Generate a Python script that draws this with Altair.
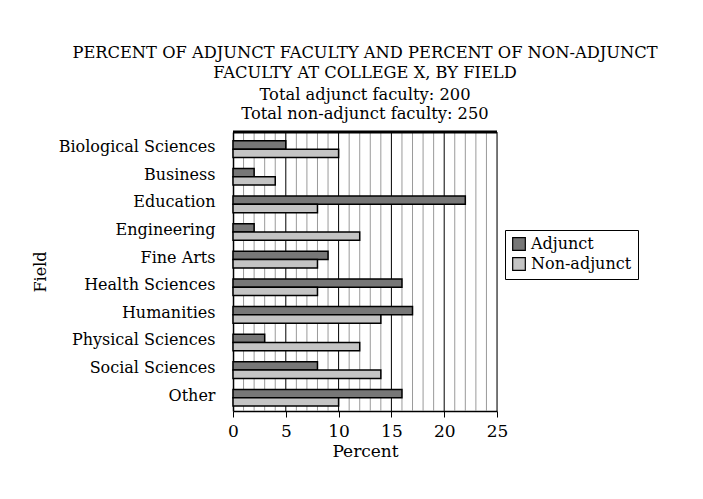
import altair as alt
import pandas as pd

fields = ["Biological Sciences", "Business", "Education", "Engineering", "Fine Arts",
          "Health Sciences", "Humanities", "Physical Sciences", "Social Sciences", "Other"]
adjunct = [5, 2, 22, 2, 9, 16, 17, 3, 8, 16]
non_adjunct = [10, 4, 8, 12, 8, 8, 14, 12, 14, 10]
groups = ["Adjunct", "Non-adjunct"]
grid_values = list(range(1, 26))
tick_values = [0, 5, 10, 15, 20, 25]

rows = []
for f, a, n in zip(fields, adjunct, non_adjunct):
    rows.append({"Field": f, "Group": "Adjunct", "Percent": a})
    rows.append({"Field": f, "Group": "Non-adjunct", "Percent": n})
df = pd.DataFrame(rows)
grid_df = pd.DataFrame({"v": grid_values})

FONT = "DejaVu Serif"
W, H = 264, 279

x_scale = alt.Scale(domain=[0, 25], nice=False)
x_axis = alt.Axis(values=tick_values, grid=False, title="Percent",
                  tickSize=6, tickColor="black", domainColor="black", domainWidth=1.5,
                  labelFontSize=17, titleFontSize=17, labelFont=FONT,
                  titleFont=FONT, titleFontWeight="normal", labelColor="black",
                  titleColor="black", titlePadding=4, labelPadding=6,
                  labelFlush=False)

grid = alt.Chart(grid_df).mark_rule(strokeWidth=1).encode(
    x=alt.X("v:Q", scale=x_scale, axis=x_axis),
    color=alt.condition("datum.v % 5 === 0", alt.value("#000000"), alt.value("#9a9a9a")),
)

top_border = alt.Chart(pd.DataFrame({"v": [0]})).mark_rule(color="#000000", strokeWidth=3).encode(
    x=alt.value(0), x2=alt.value(W), y=alt.value(0),
)

bars = alt.Chart(df).mark_bar(stroke="black", strokeWidth=1.5).encode(
    x=alt.X("Percent:Q", scale=x_scale, axis=x_axis),
    y=alt.Y("Field:N", sort=fields,
            scale=alt.Scale(paddingInner=0.4, paddingOuter=0.25, align=0.64),
            axis=alt.Axis(title="Field", ticks=False, domainColor="black", domainWidth=1.5,
                          labelFontSize=16, titleFontSize=16, labelFont=FONT,
                          titleFont=FONT, titleFontWeight="normal", labelColor="black",
                          titleColor="black", labelPadding=18, titlePadding=10,
                          labelOffset=-2)),
    yOffset=alt.YOffset("Group:N", sort=groups),
    color=alt.Color("Group:N", sort=groups,
                    scale=alt.Scale(domain=groups, range=["#777777", "#c4c4c4"]),
                    legend=alt.Legend(title=None, orient="none", legendX=272, legendY=98,
                                      strokeColor="black", padding=6,
                                      symbolType="square", symbolSize=160,
                                      symbolStrokeColor="black", symbolStrokeWidth=1.2,
                                      labelFont=FONT, labelFontSize=16, labelColor="black",
                                      rowPadding=2)),
)

chart = alt.layer(grid, bars, top_border).resolve_scale(color="independent").properties(
    width=W, height=H,
    padding={"left": 225, "top": 124, "right": 196, "bottom": 78},
    autosize=alt.AutoSizeParams(type="none"),
    title=alt.TitleParams(
        text=["PERCENT OF ADJUNCT FACULTY AND PERCENT OF NON-ADJUNCT",
              "FACULTY AT COLLEGE X, BY FIELD"],
        subtitle=["Total adjunct faculty:  200",
                  "Total non-adjunct faculty:  250"],
        font=FONT, fontSize=16.3, fontWeight="normal", color="black",
        subtitleFont=FONT, subtitleFontSize=16.3, subtitleColor="black",
        subtitleLineHeight=19.5, subtitlePadding=5,
        anchor="middle", lineHeight=20, offset=8),
).configure_view(stroke="black", strokeWidth=1.5).configure(background="white")

chart.save("out.html", embed_options={"renderer": "svg", "actions": False})
